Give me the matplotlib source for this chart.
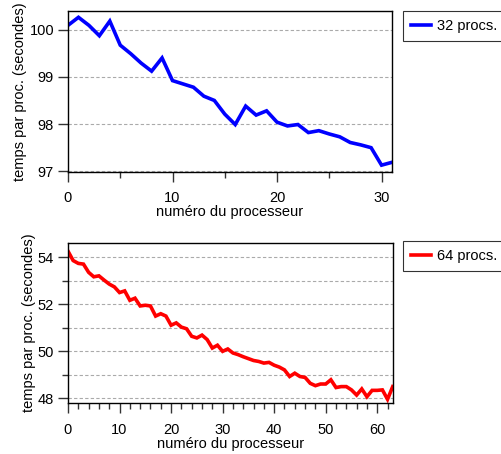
import math
import matplotlib
matplotlib.use("Agg")
import matplotlib.pyplot as plt
from matplotlib.ticker import MultipleLocator

plt.rcParams['font.family'] = ['Liberation Sans', 'DejaVu Sans']

# Temps par processeur, exécution sur 32 processeurs
t32 = [100.09, 100.26, 100.09, 99.87, 100.18, 99.67, 99.49, 99.29, 99.12, 99.40,
       98.92, 98.85, 98.78, 98.59, 98.50, 98.21, 97.99, 98.38, 98.19, 98.28,
       98.04, 97.96, 97.99, 97.82, 97.86, 97.79, 97.73, 97.61, 97.56, 97.50,
       97.13, 97.19]

# Temps par processeur, exécution sur 64 processeurs
t64 = [54.26, 53.86, 53.74, 53.71, 53.36, 53.17, 53.21, 53.03, 52.86, 52.74,
       52.50, 52.57, 52.17, 52.26, 51.93, 51.96, 51.93, 51.50, 51.60, 51.50,
       51.11, 51.21, 51.03, 50.96, 50.64, 50.57, 50.69, 50.50, 50.14, 50.26,
       50.00, 50.10, 49.93, 49.86, 49.77, 49.69, 49.61, 49.57, 49.50, 49.53,
       49.41, 49.33, 49.21, 48.93, 49.07, 48.93, 48.89, 48.64, 48.54, 48.61,
       48.61, 48.79, 48.46, 48.50, 48.50, 48.36, 48.14, 48.40, 48.07, 48.34,
       48.34, 48.36, 47.96, 48.50]

labels = ["32 procs.", "64 procs."]
xlabel = "numéro du processeur"
ylabel = "temps par proc. (secondes)"

W, H = 501, 454
fig = plt.figure(figsize=(W / 100, H / 100), dpi=100)


def px_axes(left, top, right, bottom):
    return fig.add_axes([left / W, 1 - bottom / H, (right - left) / W, (bottom - top) / H])


def style(ax, xmajor, xminor, ymajor, yminor, grid_step):
    for s in ax.spines.values():
        s.set_linewidth(1.0)
        s.set_color('black')
    ax.xaxis.set_major_locator(MultipleLocator(xmajor))
    ax.xaxis.set_minor_locator(MultipleLocator(xminor))
    ax.yaxis.set_major_locator(MultipleLocator(ymajor))
    if yminor:
        ax.yaxis.set_minor_locator(MultipleLocator(yminor))
    ax.tick_params(axis='both', which='major', direction='out', length=7, width=1,
                   color='#333333', labelsize=10.5, pad=3)
    ax.tick_params(axis='both', which='minor', direction='out', length=4.5, width=1,
                   color='#333333')
    ax.tick_params(axis='x', which='major', pad=7)
    ax.tick_params(top=False, right=False, which='both')
    lo, hi = ax.get_ylim()
    g = math.ceil(lo / grid_step) * grid_step
    while g <= hi:
        ax.axhline(g, color='#aaaaaa', lw=0.8, ls=(0, (3, 2)), zorder=0.5)
        g += grid_step
    ax.set_xlabel(xlabel, fontsize=10.5, labelpad=0)
    ax.set_ylabel(ylabel, fontsize=10.5, labelpad=1.5)


ax1 = px_axes(68, 10.7, 392, 172)
ax1.plot(range(len(t32)), t32, color='#0000ff', lw=2.6, solid_joinstyle='miter', label=labels[0])
ax1.set_xlim(0, 31)
ax1.set_ylim(96.985, 100.4)
style(ax1, 10, 5, 1, None, 1)

ax2 = px_axes(68, 242.7, 392.7, 403.3)
ax2.plot(range(len(t64)), t64, color='#ff0000', lw=2.6, solid_joinstyle='miter', label=labels[1])
ax2.set_xlim(0, 63)
ax2.set_ylim(47.79, 54.62)
style(ax2, 10, 2, 2, 1, 1)

for ax, top in ((ax1, 11), (ax2, 241)):
    leg = ax.legend(loc='upper left', bbox_to_anchor=(403 / W, 1 - top / H),
                    bbox_transform=fig.transFigure, fontsize=10.5, frameon=True,
                    fancybox=False, handlelength=1.35, handletextpad=0.4,
                    borderpad=0.55, borderaxespad=0)
    leg.get_frame().set_edgecolor('black')
    leg.get_frame().set_linewidth(0.8)

fig.savefig("out.png", dpi=100)
